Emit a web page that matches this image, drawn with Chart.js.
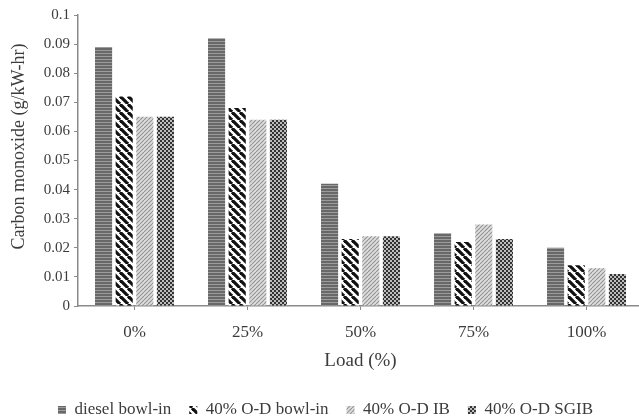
<!DOCTYPE html>
<html>
<head>
<meta charset="utf-8">
<script src="https://cdn.jsdelivr.net/npm/chart.js@4/dist/chart.umd.min.js"></script>
<style>
  html, body { margin: 0; padding: 0; background: #fff; overflow: hidden; }
  #wrap { width: 646px; height: 419px; }
</style>
</head>
<body>
<div id="wrap"><canvas id="chart" width="646" height="419"></canvas></div>
<script>
// Engine load vs. carbon monoxide emission for four piston bowl configurations
const loads = ['0%', '25%', '50%', '75%', '100%'];
const seriesNames = ['diesel bowl-in', '40% O-D bowl-in', '40% O-D IB', '40% O-D SGIB'];
const dieselBowlIn = [0.089, 0.092, 0.042, 0.025, 0.020];
const odBowlIn = [0.072, 0.068, 0.023, 0.022, 0.014];
const odIB = [0.065, 0.064, 0.024, 0.028, 0.013];
const odSGIB = [0.065, 0.064, 0.024, 0.023, 0.011];
const yTicks = [0, 0.01, 0.02, 0.03, 0.04, 0.05, 0.06, 0.07, 0.08, 0.09, 0.1];
const yTitle = 'Carbon monoxide (g/kW-hr)';

// Small tiled fills for the monochrome bar hatching
function tile(w, h, draw) {
  const c = document.createElement('canvas');
  c.width = w; c.height = h;
  const g = c.getContext('2d');
  draw(g, w, h);
  return g.createPattern(c, 'repeat');
}
const horizStripes = tile(1, 3, (g) => {
  g.fillStyle = '#9c9c9c'; g.fillRect(0, 0, 1, 3);
  g.fillStyle = '#686868'; g.fillRect(0, 0, 1, 2);
});
const wideBackslash = tile(8, 8, (g) => {
  g.fillStyle = '#ffffff'; g.fillRect(0, 0, 8, 8);
  g.strokeStyle = '#111111'; g.lineWidth = 3.2;
  for (const o of [-8, 0, 8]) {
    g.beginPath(); g.moveTo(o, 0); g.lineTo(o + 8, 8); g.stroke();
  }
});
const fineSlash = tile(4, 4, (g) => {
  g.fillStyle = '#dedede'; g.fillRect(0, 0, 4, 4);
  g.strokeStyle = '#939393'; g.lineWidth = 1.1;
  for (const o of [-4, 0, 4]) {
    g.beginPath(); g.moveTo(o, 4); g.lineTo(o + 4, 0); g.stroke();
  }
});
const checker = tile(4, 4, (g) => {
  g.fillStyle = '#bdbdbd'; g.fillRect(0, 0, 4, 4);
  g.fillStyle = '#333333'; g.fillRect(0, 0, 2, 2); g.fillRect(2, 2, 2, 2);
});

const fills = [horizStripes, wideBackslash, fineSlash, checker];
const values = [dieselBowlIn, odBowlIn, odIB, odSGIB];

const serif = 'Liberation Serif, Times New Roman, serif';
const axisColor = '#8a8a8a';
const textColor = '#3c3c3c';

// Rotated y-axis caption, sitting a little above the plot's middle
const yCaption = {
  id: 'yCaption',
  afterDraw(chart) {
    const { ctx, chartArea } = chart;
    ctx.save();
    ctx.translate(19, chartArea.top + (chartArea.bottom - chartArea.top) * 0.452);
    ctx.rotate(-Math.PI / 2);
    ctx.font = '18px ' + serif;
    ctx.fillStyle = textColor;
    ctx.textAlign = 'center';
    ctx.textBaseline = 'middle';
    ctx.fillText(yTitle, 0, 0);
    ctx.restore();
  }
};

new Chart(document.getElementById('chart'), {
  type: 'bar',
  data: {
    labels: loads,
    datasets: seriesNames.map((name, i) => ({
      label: name,
      data: values[i],
      backgroundColor: fills[i],
      borderWidth: 0,
      categoryPercentage: 0.73,
      barPercentage: 0.83
    }))
  },
  plugins: [yCaption],
  options: {
    responsive: false,
    animation: false,
    layout: { padding: { top: 15, right: 3, left: 8, bottom: -9.5 } },
    plugins: {
      tooltip: { enabled: false },
      legend: {
        position: 'bottom',
        labels: {
          font: { family: serif, size: 17 },
          color: textColor,
          boxWidth: 8,
          boxHeight: 8,
          padding: 18
        }
      }
    },
    scales: {
      x: {
        afterFit: (s) => { s.height = 77.5; },
        grid: { display: true, drawOnChartArea: false, offset: false, tickLength: 4, color: axisColor },
        border: { color: axisColor, width: 1.5 },
        ticks: { font: { family: serif, size: 17 }, color: textColor, padding: 12 },
        title: { display: true, text: 'Load (%)', font: { family: serif, size: 19 }, color: textColor, padding: { top: 4, bottom: 11 } }
      },
      y: {
        min: 0,
        max: 0.1,
        afterBuildTicks: (s) => { s.ticks = yTicks.map(v => ({ value: v })); },
        afterFit: (s) => { s.width = 70; },
        grid: { display: true, drawOnChartArea: false, tickLength: 4, color: axisColor },
        border: { color: axisColor, width: 1.5 },
        ticks: {
          font: { family: serif, size: 15 }, color: textColor, padding: 4,
          callback: (v) => String(Number(v.toFixed(2)))
        },
        title: { display: false }
      }
    }
  }
});
</script>
</body>
</html>
